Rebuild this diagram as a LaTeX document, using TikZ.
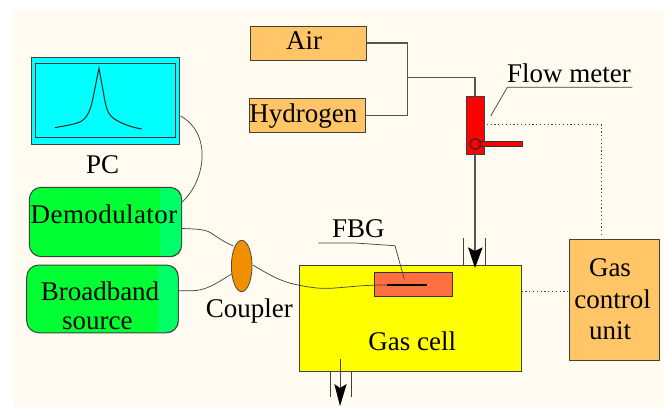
\documentclass[tikz,border=0pt]{standalone}
\usepackage{fontspec}
\usetikzlibrary{shapes.geometric}
\setmainfont{Liberation Serif}
\definecolor{creambg}{HTML}{FFFBF0}
\definecolor{boxorange}{HTML}{FFC566}
\definecolor{gasgreen}{HTML}{00FF33}
\definecolor{gasgreenb}{HTML}{00FF66}
\definecolor{coupcol}{HTML}{F09000}
\definecolor{fbgcol}{HTML}{FF6F3F}
\definecolor{linegray}{HTML}{555555}
\definecolor{pccyan}{HTML}{00FFFF}
\definecolor{cellyellow}{HTML}{FFFF00}
\definecolor{meterred}{HTML}{FF0000}
\tikzset{
  lab/.style={font=\fontsize{27}{30}\selectfont,text=black,inner sep=0pt,anchor=center},
  pipe/.style={draw=linegray,line width=1.1pt},
  thinw/.style={draw=black!75,line width=0.7pt},
  dots/.style={draw=black!75,line width=0.9pt,dash pattern=on 1.2pt off 2.6pt},
  headfill/.style={fill=black,draw=none},
  roundbox/.style={rectangle,rounded corners=12pt,inner sep=0pt,draw=black!75,line width=1pt,fill=gasgreen},
  sqbox/.style={rectangle,inner sep=0pt,draw=black!75,line width=1pt},
}
\begin{document}
\begin{tikzpicture}[x=1pt,y=-1pt]
\useasboundingbox (0,0) rectangle (664,407);
\fill[creambg] (13,10) rectangle (664,407);
% PC
\node[sqbox,fill=pccyan,minimum width=148.3pt,minimum height=87pt] (pc) at (105.8,100.8) {};
\node[sqbox,draw=black!80,fill=pccyan,minimum width=139.6pt,minimum height=74pt] (pcin) at (105.5,100.3) {};
\draw[black!85,line width=1pt,line join=miter] (55,127.7) .. controls (66,125.5) and (74,124.5) .. (80,122) .. controls (88,118) and (91,108) .. (93,98) -- (99,68) -- (104,96) .. controls (106,108) and (108,114) .. (113,118) .. controls (120,123) and (130,127) .. (141.7,129);
\node[lab] (pcl) at (102.7,165) {PC};
% green boxes
\node[roundbox,minimum width=152.4pt,minimum height=69.4pt] (dem) at (105.5,222) {};
\begin{scope}
\clip (160,188) rectangle (181,256);
\node[roundbox,fill=gasgreenb,minimum width=152.4pt,minimum height=69.4pt] at (105.5,222) {};
\end{scope}
\node[lab] at (104,214.3) {\addfontfeature{LetterSpace=1.5}Demodulator};
\node[roundbox,minimum width=151.6pt,minimum height=67.7pt] (bb) at (102.5,298.9) {};
\begin{scope}
\clip (158,266) rectangle (178,332);
\node[roundbox,fill=gasgreenb,minimum width=151.6pt,minimum height=67.7pt] at (102.5,298.9) {};
\end{scope}
\node[lab] at (100,291) {Broadband};
\node[lab] at (97.3,323) {source};
\draw[thinw] (pc.east |- 0,116) .. controls (212,133) and (206,180) .. (dem.east |- 0,202);
% sources
\node[sqbox,fill=boxorange,minimum width=116pt,minimum height=34pt] (air) at (308.7,43) {};
\node[lab] at (304,41) {Air};
\node[sqbox,fill=boxorange,minimum width=116.4pt,minimum height=34pt] (hyd) at (307.5,115.3) {};
\node[lab] at (303.3,116) {Hydrogen};
% gas cell
\node[sqbox,fill=cellyellow,minimum width=222pt,minimum height=106.3pt] (cell) at (410,318.2) {};
\node[lab] at (412.3,341) {Gas cell};
\node[sqbox,draw=black!80,fill=fbgcol,minimum width=78.3pt,minimum height=24.4pt] (fbg) at (413.2,284.5) {};
% flow meter
\node[sqbox,fill=meterred,minimum width=18pt,minimum height=58pt] (fm) at (475.7,125) {};
\coordinate (jn) at (407.3,77.7);
\draw[pipe] (air.east) -- (jn |- air.east) -- (jn |- hyd.east) -- (hyd.east);
\draw[pipe] (jn) -- (475,77.7) -- (475,96);
\draw[pipe] (475,154) -- (475,262);
% inlet arrow
\draw[thinw] (463.7,238) -- (463.7,265) (485,238) -- (485,265);
\fill[headfill] (475,268) -- (468,247.3) -- (475,251) -- (482.7,247.3) -- cycle;
\node[sqbox,draw=black!80,fill=meterred,minimum width=42pt,minimum height=4.7pt] (bar) at (501.7,144.3) {};
\node[circle,draw=black!85,line width=1pt,fill=meterred,inner sep=0pt,minimum size=10.6pt] (vlv) at (475.3,144) {};
\node[lab] at (569,73.3) {Flow meter};
\draw[thinw] (632.3,87.3) -- (507.3,87.3) -- (490.7,116);
% control unit
\node[sqbox,fill=boxorange,minimum width=90.3pt,minimum height=120.7pt] (ctl) at (614.2,300.3) {};
\node[lab] at (610,267.7) {Gas};
\node[lab] at (612.7,299.5) {control};
\node[lab] at (610,331) {unit};
\draw[dots] (486.7,124.7) -- (601.7,124.7) -- (601.7,236.7);
\draw[dots] (cell.east |- 0,291) -- (ctl.west |- 0,291);
% coupler
\node[ellipse,draw=black!70,line width=0.8pt,fill=coupcol,minimum width=20.6pt,minimum height=51.4pt,inner sep=0pt] (cp) at (241.7,266) {};
\node[lab] at (249.3,311.5) {Coupler};
\draw[thinw] (dem.east |- 0,228.5) .. controls (195,229) and (205,229) .. (211,233) .. controls (220,239) and (226,243) .. (233.3,246);
\draw[thinw] (bb.east |- 0,290.7) .. controls (190,291) and (198,291) .. (205,288.5) .. controls (215,285) and (223,279) .. (231.7,274);
\draw[thinw] (252.7,265) .. controls (265,272) and (280,282) .. (298.3,285) .. controls (312,288) and (322,289) .. (335,288) .. controls (350,287) and (362,285) .. (386.7,285);
\draw[black,line width=1.8pt] (386.7,285) -- (426.7,285);
\node[lab] at (358.3,228.3) {FBG};
\draw[thinw] (318.3,243) -- (355,243) -- (395,245.7) -- (404.3,279.3);
% outlet arrow
\draw[thinw] (330.3,371) -- (330.3,397) (351,371) -- (351,397);
\draw[thinw] (340,359) -- (340,400);
\fill[headfill] (340,406) -- (334.3,384) -- (340,388) -- (346.7,384) -- cycle;
\end{tikzpicture}
\end{document}
